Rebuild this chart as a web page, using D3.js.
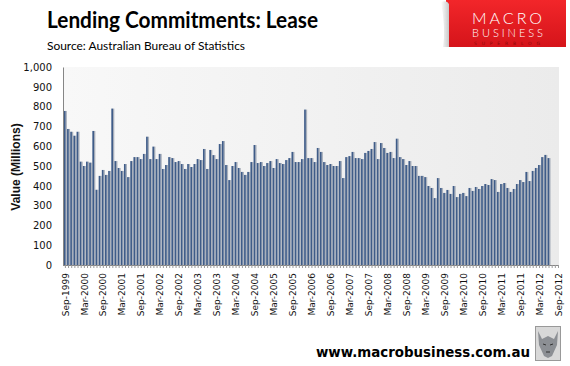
<!DOCTYPE html>
<html><head><meta charset="utf-8">
<script src="https://cdn.jsdelivr.net/npm/d3@7/dist/d3.min.js"></script>
<style>html,body{margin:0;padding:0;background:#fff;}svg{display:block;}</style>
</head><body><svg id="c" width="570" height="366"></svg>
<script>
// ---- data ----
const startMonth = "1999-09";
const axisEndMonth = "2012-09";
const values = [
 778,687,673,653,673,522,500,522,517,677,380,450,480,455,475,790,525,490,475,510,444,525,545,545,535,561,648,535,598,535,561,485,
 505,545,540,520,525,510,485,510,495,510,535,530,586,485,581,555,535,611,626,505,429,500,520,490,470,455,470,520,606,515,520,500,
 515,525,490,535,515,510,530,540,571,520,520,535,785,540,540,520,591,571,520,505,510,500,500,525,439,545,550,571,540,540,535,566,
 576,586,621,535,616,591,566,571,540,638,545,535,505,525,500,500,450,450,444,399,389,338,439,389,364,379,359,399,343,359,364,
 348,389,374,394,384,399,409,404,434,429,369,409,414,389,369,384,409,429,419,470,424,475,490,505,545,556,540
];
const yTicks = [0,100,200,300,400,500,600,700,800,900,1000];
const title = "Lending Commitments: Lease";
const subtitle = "Source: Australian Bureau of Statistics";
const yTitle = "Value (Millions)";
const footer = "www.macrobusiness.com.au";

// ---- build ----
const parse = d3.timeParse("%Y-%m");
const fmt = d3.timeFormat("%b-%Y");
const months = d3.timeMonth.range(parse(startMonth), d3.timeMonth.offset(parse(axisEndMonth), 1));
const keys = months.map(fmt);
const data = values.map((v, i) => ({key: keys[i], value: v}));
const labelKeys = months.filter(m => m.getMonth() === 2 || m.getMonth() === 8).map(fmt);

const svg = d3.select("#c");
const defs = svg.append("defs");
const bg = defs.append("linearGradient").attr("id", "bg").attr("x1", 0).attr("x2", 1).attr("y1", 0).attr("y2", 0);
bg.append("stop").attr("offset", "0%").attr("stop-color", "#f8f8f8");
bg.append("stop").attr("offset", "100%").attr("stop-color", "#ebebeb");
const red = defs.append("linearGradient").attr("id", "red").attr("x1", 0).attr("x2", 0).attr("y1", 0).attr("y2", 1);
red.append("stop").attr("offset", "0%").attr("stop-color", "#f2262a");
red.append("stop").attr("offset", "100%").attr("stop-color", "#d5141a");
const curl = defs.append("linearGradient").attr("id", "curl").attr("x1", 0).attr("x2", 1);
curl.append("stop").attr("offset", "0%").attr("stop-color", "#ffffff");
curl.append("stop").attr("offset", "100%").attr("stop-color", "#c9c9c9");

const plot = {left: 63, right: 559, top: 67, bottom: 265};
const x = d3.scalePoint().domain(keys).range([64.9, 558]);
const y = d3.scaleLinear().domain([0, 1000]).range([plot.bottom, plot.top]);

svg.append("rect").attr("x", plot.left).attr("y", plot.top)
  .attr("width", plot.right - plot.left).attr("height", plot.bottom - plot.top)
  .attr("fill", "url(#bg)");

// bars: shadow + body
svg.append("g").selectAll("rect").data(data).join("rect")
  .attr("x", d => x(d.key) + 0.6).attr("width", 1.4)
  .attr("y", d => y(d.value)).attr("height", d => y(0) - y(d.value))
  .attr("fill", "#a9b0bb");
svg.append("g").selectAll("rect").data(data).join("rect")
  .attr("x", d => x(d.key) - 1).attr("width", 1.7)
  .attr("y", d => y(d.value)).attr("height", d => y(0) - y(d.value))
  .attr("fill", "#3f5c88");

// y axis
const yAxis = svg.append("g").attr("transform", `translate(${plot.left},0)`)
  .call(d3.axisLeft(y).tickValues(yTicks).tickSize(0).tickPadding(11).tickFormat(d3.format(",")));
yAxis.select(".domain").attr("stroke", "#868686");
yAxis.selectAll("text").attr("font-family", "DejaVu Sans").attr("font-size", 10).attr("fill", "#111");

// x axis
const xAxis = svg.append("g").attr("transform", `translate(0,${plot.bottom})`)
  .call(d3.axisBottom(x).tickSize(3).tickFormat(d => labelKeys.includes(d) ? d : ""));
xAxis.select(".domain").attr("stroke", "#868686").attr("d", `M${plot.left},0.5H${plot.right}`);
xAxis.selectAll(".tick line").attr("stroke", "#9a9a9a");
xAxis.selectAll("text")
  .attr("font-family", "DejaVu Sans").attr("font-size", 9).attr("fill", "#111")
  .attr("text-anchor", "end").attr("transform", "rotate(-90)")
  .attr("x", -8).attr("y", 0).attr("dy", "0.35em");

// y title
svg.append("text").attr("transform", "translate(20,167) rotate(-90)")
  .attr("text-anchor", "middle").attr("font-family", "Liberation Sans").attr("font-weight", "bold")
  .attr("font-size", 12).attr("fill", "#111").text(yTitle);

// titles
svg.append("text").attr("x", 47).attr("y", 28).attr("font-family", "Lato").attr("font-weight", "bold")
  .attr("font-size", 22).attr("fill", "#000").attr("textLength", 271).attr("lengthAdjust", "spacingAndGlyphs").text(title);
svg.append("text").attr("x", 47).attr("y", 50).attr("font-family", "Lato")
  .attr("font-size", 12).attr("fill", "#000").attr("textLength", 198).attr("lengthAdjust", "spacingAndGlyphs").text(subtitle);

// logo
const logo = svg.append("g");
logo.append("rect").attr("x", 446).attr("y", 0).attr("width", 120).attr("height", 47).attr("fill", "url(#red)");
logo.append("path").attr("d", "M441,2 Q447,0 449,4 L449,47 L443,47 Q446,30 441,2 Z").attr("fill", "url(#curl)");
logo.append("text").attr("x", 472).attr("y", 24).attr("font-family", "Lato")
  .attr("font-weight", "300").attr("font-size", 16).attr("fill", "#fff").attr("textLength", 70).attr("lengthAdjust", "spacing").text("MACRO");
logo.append("text").attr("x", 472).attr("y", 37).attr("font-family", "Lato")
  .attr("font-weight", "300").attr("font-size", 11).attr("fill", "#fff").attr("textLength", 71).attr("lengthAdjust", "spacing").text("BUSINESS");
logo.append("text").attr("x", 474).attr("y", 45).attr("font-family", "DejaVu Sans")
  .attr("font-size", 4.5).attr("fill", "#8a0a0a").attr("textLength", 66).attr("lengthAdjust", "spacing").text("SUPERBLOG");

// footer
svg.append("text").attr("x", 316).attr("y", 357).attr("font-family", "DejaVu Sans").attr("font-weight", "bold")
  .attr("font-size", 14).attr("fill", "#000").attr("textLength", 214).attr("lengthAdjust", "spacingAndGlyphs").text(footer);

// wolf badge
const w = svg.append("g");
w.append("rect").attr("x", 535.5).attr("y", 326.5).attr("width", 25).attr("height", 34).attr("fill", "#d8d8d8").attr("stroke", "#999");
w.append("path").attr("d", "M538,331 L542,339 L548,336 L554,339 L558,331 L557,345 L552,356 L548,358 L544,356 L539,345 Z").attr("fill", "#8c8f94");
w.append("path").attr("d", "M543,344 L546,345 M550,345 L553,344 M546,352 L550,352").attr("stroke", "#333").attr("stroke-width", 1);
</script></body></html>
